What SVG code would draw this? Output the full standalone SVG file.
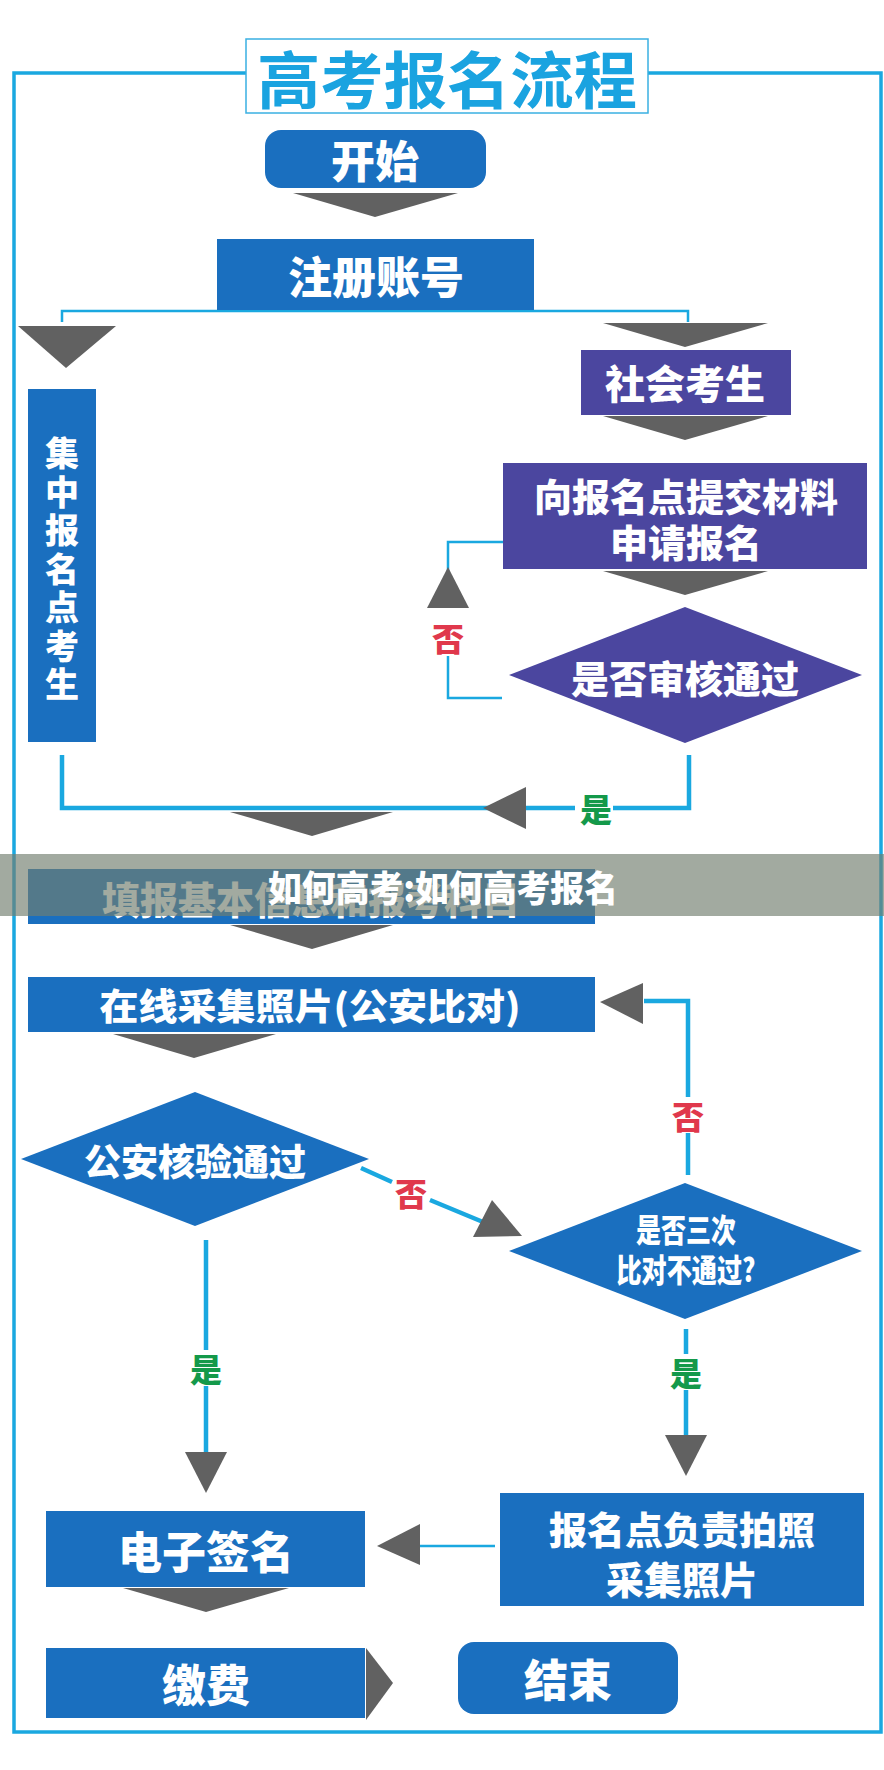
<svg xmlns="http://www.w3.org/2000/svg" width="884" height="1770" viewBox="0 0 884 1770">
<style>
.blue{fill:#1A6FBF}
.purple{fill:#4B469F}
.tri{fill:#616161}
.ln{fill:none;stroke:#1AA8E0;stroke-width:2.5}
.lnk{fill:none;stroke:#1AA8E0;stroke-width:4.5}
.t{font-family:"Noto Sans CJK SC","Noto Sans",sans-serif;font-weight:900;fill:#fff;text-anchor:middle;dominant-baseline:central}
.no{font-family:"Noto Sans CJK SC",sans-serif;font-weight:900;fill:#E0384C;text-anchor:middle;dominant-baseline:central;font-size:32px}
.yes{font-family:"Noto Sans CJK SC",sans-serif;font-weight:900;fill:#14994A;text-anchor:middle;dominant-baseline:central;font-size:32px}
</style>
<rect width="884" height="1770" fill="#fff"/>
<rect x="14" y="73" width="867" height="1659" fill="none" stroke="#1AA8E0" stroke-width="3.5"/>
<g id="title">
<rect x="246" y="39" width="402" height="74" fill="#fff" stroke="#3AB0E2" stroke-width="1.5"/>
<text x="447" y="77" font-family="Noto Sans CJK SC,sans-serif" font-weight="700" font-size="62" fill="#1AA3E0" text-anchor="middle" dominant-baseline="central" textLength="380" lengthAdjust="spacingAndGlyphs">高考报名流程</text>
</g>
<g id="connectors">
<polygon class="tri" points="293,193 458,193 375,217"/>
<path class="ln" d="M62,322 V311 H688 V322"/>
<polygon class="tri" points="18,326 116,326 66,368"/>
<polygon class="tri" points="603,323 768,323 685,347"/>
<polygon class="tri" points="603,416 768,416 685,440"/>
<polygon class="tri" points="603,571 768,571 685,595"/>
<path class="ln" d="M503,542 H448 V608"/>
<path class="ln" d="M448,656 V698 H502"/>
<polygon class="tri" points="448,567 427,608 469,608"/>
<text class="no" x="448" y="637">否</text>
<path class="lnk" d="M62,755 V808 H526 M613,808 H689 V755 M526,808 H575"/>
<polygon class="tri" points="483,808 526,787 526,829"/>
<text class="yes" x="596" y="808">是</text>
<polygon class="tri" points="230,812 393,812 312,836"/>
<polygon class="tri" points="230,925 393,925 312,949"/>
<polygon class="tri" points="113,1034 276,1034 194,1058"/>
<path class="lnk" d="M361,1168 L392,1182 M430,1200 L483,1222"/>
<text class="no" x="411" y="1192">否</text>
<polygon class="tri" points="492,1200 473,1237 522,1236"/>
<path class="lnk" d="M688,1175 V1133 M688,1097 V1001 H644"/>
<polygon class="tri" points="600,1002 643,983 643,1024"/>
<text class="no" x="688" y="1115">否</text>
<path class="lnk" d="M206,1240 V1350 M206,1386 V1452"/>
<text class="yes" x="206" y="1368">是</text>
<polygon class="tri" points="185,1452 227,1452 206,1493"/>
<path class="lnk" d="M686,1329 V1354 M686,1390 V1435"/>
<text class="yes" x="686" y="1372">是</text>
<polygon class="tri" points="665,1435 707,1435 686,1476"/>
<path class="ln" d="M420,1546 H495" stroke-width="3"/>
<polygon class="tri" points="377,1546 420,1524 420,1565"/>
<polygon class="tri" points="123,1588 289,1588 206,1612"/>
<polygon class="tri" points="366,1648 393,1683 366,1720"/>
</g>
<g id="start">
<rect class="blue" x="265" y="130" width="221" height="58" rx="16"/>
<text class="t" x="375" y="159" font-size="44">开始</text>
</g>
<g id="register">
<rect class="blue" x="217" y="239" width="317" height="71"/>
<text class="t" x="376" y="275" font-size="44">注册账号</text>
</g>
<g id="social">
<rect class="purple" x="581" y="350" width="210" height="65"/>
<text class="t" x="685" y="382" font-size="40">社会考生</text>
</g>
<g id="submit">
<rect class="purple" x="503" y="463" width="364" height="106"/>
<text class="t" x="686" y="494" font-size="38">向报名点提交材料</text>
<text class="t" x="686" y="540" font-size="38">申请报名</text>
</g>
<g id="audit">
<polygon class="purple" points="685,607 862,675 685,743 509,675"/>
<text class="t" x="685" y="676" font-size="38">是否审核通过</text>
</g>
<g id="central">
<rect class="blue" x="28" y="389" width="68" height="353"/>
<text class="t" x="62" font-size="34"><tspan x="62" y="451">集</tspan><tspan x="62" y="489.5">中</tspan><tspan x="62" y="528">报</tspan><tspan x="62" y="566.5">名</tspan><tspan x="62" y="605">点</tspan><tspan x="62" y="643.5">考</tspan><tspan x="62" y="682">生</tspan></text>
</g>
<g id="fill-info">
<rect class="blue" x="28" y="869" width="567" height="55"/>
<text class="t" x="311" y="897" font-size="38">填报基本信息和报考科目</text>
</g>
<g id="overlay">
<rect x="0" y="854" width="884" height="62" fill="rgb(114,126,111)" fill-opacity="0.66"/>
<text class="t" x="443" y="886" font-size="36" textLength="350" lengthAdjust="spacingAndGlyphs">如何高考:如何高考报名</text>
</g>
<g id="photo-online">
<rect class="blue" x="28" y="977" width="567" height="55"/>
<text class="t" x="310" y="1004" font-size="36" textLength="421" lengthAdjust="spacingAndGlyphs">在线采集照片(公安比对)</text>
</g>
<g id="police">
<polygon class="blue" points="195,1092 369,1159 195,1226 21,1159"/>
<text class="t" x="195" y="1160" font-size="37">公安核验通过</text>
</g>
<g id="three">
<polygon class="blue" points="685,1183 862,1251 685,1319 509,1251"/>
<text class="t" x="686" y="1228" font-size="32" textLength="100" lengthAdjust="spacingAndGlyphs">是否三次</text>
<text class="t" x="686" y="1268" font-size="32" textLength="139" lengthAdjust="spacingAndGlyphs">比对不通过?</text>
</g>
<g id="site-photo">
<rect class="blue" x="500" y="1493" width="364" height="113"/>
<text class="t" x="682" y="1527" font-size="38">报名点负责拍照</text>
<text class="t" x="682" y="1577" font-size="38">采集照片</text>
</g>
<g id="esign">
<rect class="blue" x="46" y="1511" width="319" height="76"/>
<text class="t" x="206" y="1550" font-size="44">电子签名</text>
</g>
<g id="pay">
<rect class="blue" x="46" y="1648" width="319" height="70"/>
<text class="t" x="206" y="1683" font-size="44">缴费</text>
</g>
<g id="end">
<rect class="blue" x="458" y="1642" width="220" height="72" rx="16"/>
<text class="t" x="568" y="1678" font-size="44">结束</text>
</g>
</svg>
